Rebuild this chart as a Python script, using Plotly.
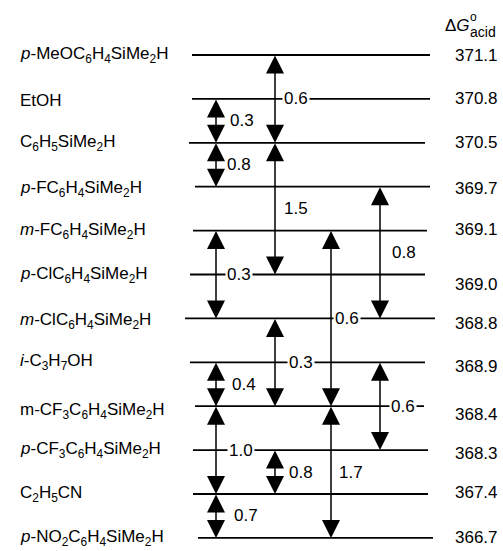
import plotly.graph_objects as go

# ---------------- data ----------------
compounds = [
    "<i>p</i>-MeOC<sub>6</sub>H<sub>4</sub>SiMe<sub>2</sub>H",
    "EtOH",
    "C<sub>6</sub>H<sub>5</sub>SiMe<sub>2</sub>H",
    "<i>p</i>-FC<sub>6</sub>H<sub>4</sub>SiMe<sub>2</sub>H",
    "<i>m</i>-FC<sub>6</sub>H<sub>4</sub>SiMe<sub>2</sub>H",
    "<i>p</i>-ClC<sub>6</sub>H<sub>4</sub>SiMe<sub>2</sub>H",
    "<i>m</i>-ClC<sub>6</sub>H<sub>4</sub>SiMe<sub>2</sub>H",
    "<i>i</i>-C<sub>3</sub>H<sub>7</sub>OH",
    "m-CF<sub>3</sub>C<sub>6</sub>H<sub>4</sub>SiMe<sub>2</sub>H",
    "<i>p</i>-CF<sub>3</sub>C<sub>6</sub>H<sub>4</sub>SiMe<sub>2</sub>H",
    "C<sub>2</sub>H<sub>5</sub>CN",
    "<i>p</i>-NO<sub>2</sub>C<sub>6</sub>H<sub>4</sub>SiMe<sub>2</sub>H",
]
dG_acid = ["371.1", "370.8", "370.5", "369.7", "369.1", "369.0",
           "368.8", "368.9", "368.4", "368.3", "367.4", "366.7"]

# equilibrium links: (upper level index, lower level index, measured ΔΔG)
link_from = [1, 2, 0, 2, 3, 4, 4, 6, 7, 7, 8, 9, 10, 8]
link_to   = [2, 3, 2, 5, 6, 6, 8, 8, 8, 9, 10, 10, 11, 11]
link_dG   = ["0.3", "0.8", "0.6", "1.5", "0.8", "0.3", "0.6", "0.3",
             "0.4", "0.6", "1.0", "0.8", "0.7", "1.7"]

# ---------------- layout constants ----------------
W, H = 503, 551
Y0, DY = 55.0, 43.9          # pixel of first level, pixels per level
def px2lvl(py):
    return (py - Y0) / DY

line_x0 = [192, 192, 189, 195, 193, 190, 185, 190, 195, 193, 193, 198]
line_x1 = [430, 430, 425, 430, 427, 425, 435, 425, 424, 428, 428, 433]
link_col = [216, 216, 275, 275, 380, 216, 331, 275, 216, 380, 216, 275, 216, 331]
label_dx = [12, 9, 7, 7, 10, 9, 2, 12, 14, 9, 11, 12, 16, 6]
name_yshift = [0, -2, 0, -2, 0, 0, -3, 0, -5, 0, 0, 0]
val_yshift = [0, 0, 0, -2, 1, -10, -5, -4, -8, -3, 2, 0]

FONT = "Liberation Sans, Arial, Helvetica, sans-serif"
FS = 17

fig = go.Figure()
fig.add_trace(go.Scatter(x=[None], y=[None], showlegend=False, hoverinfo="skip"))

shapes = []
annotations = []

# horizontal level lines + names + values
for i, name in enumerate(compounds):
    shapes.append(dict(type="line", xref="x", yref="y",
                       x0=line_x0[i], x1=line_x1[i], y0=i, y1=i,
                       line=dict(color="black", width=1.8)))
    annotations.append(dict(x=18, y=i, xref="x", yref="y", text=name,
                            showarrow=False, xanchor="left", yanchor="middle",
                            yshift=name_yshift[i],
                            font=dict(family=FONT, size=FS, color="black")))
    annotations.append(dict(x=453, y=i, xref="x", yref="y", text=dG_acid[i],
                            showarrow=False, xanchor="left", yanchor="middle",
                            yshift=val_yshift[i],
                            font=dict(family=FONT, size=FS, color="black")))

# header ΔG°acid
annotations.append(dict(x=443, y=px2lvl(25), xref="x", yref="y",
                        text="Δ<i>G</i>", showarrow=False, xanchor="left",
                        yanchor="middle",
                        font=dict(family=FONT, size=FS, color="black")))
annotations.append(dict(x=468, y=px2lvl(17), xref="x", yref="y",
                        text="o", showarrow=False, xanchor="left",
                        yanchor="middle",
                        font=dict(family=FONT, size=12, color="black")))
annotations.append(dict(x=468, y=px2lvl(32), xref="x", yref="y",
                        text="acid", showarrow=False, xanchor="left",
                        yanchor="middle",
                        font=dict(family=FONT, size=14, color="black")))

# link labels (drawn before arrows so arrows stay on top of white boxes)
for k in range(len(link_from)):
    mid = (link_from[k] + link_to[k]) / 2.0
    on_line = float(mid).is_integer()
    annotations.append(dict(x=link_col[k] + label_dx[k], y=mid, xref="x", yref="y",
                            text=link_dG[k], showarrow=False, xanchor="left",
                            yanchor="middle",
                            bgcolor="white" if on_line else "rgba(0,0,0,0)",
                            borderpad=1,
                            font=dict(family=FONT, size=FS, color="black")))

# double-headed arrows
for k in range(len(link_from)):
    annotations.append(dict(x=link_col[k], y=link_to[k],
                            ax=link_col[k], ay=link_from[k],
                            xref="x", yref="y", axref="x", ayref="y",
                            text="", showarrow=True,
                            arrowhead=2, startarrowhead=2,
                            arrowside="end+start",
                            arrowsize=2.4, startarrowsize=2.4,
                            arrowwidth=1.5, arrowcolor="black",
                            standoff=0, startstandoff=0,
                            font=dict(size=1), borderpad=0))

fig.update_layout(
    width=W, height=H,
    margin=dict(l=0, r=0, t=0, b=0),
    paper_bgcolor="white", plot_bgcolor="white",
    showlegend=False,
    xaxis=dict(range=[0, W], visible=False, fixedrange=True),
    yaxis=dict(range=[px2lvl(H), px2lvl(0)], visible=False, fixedrange=True),
    shapes=shapes, annotations=annotations,
)

fig.write_html(
    "out.html",
    config={"displayModeBar": False},
    post_script="document.body.style.margin='0';document.body.style.padding='0';"
                "document.body.style.overflow='hidden';",
)
